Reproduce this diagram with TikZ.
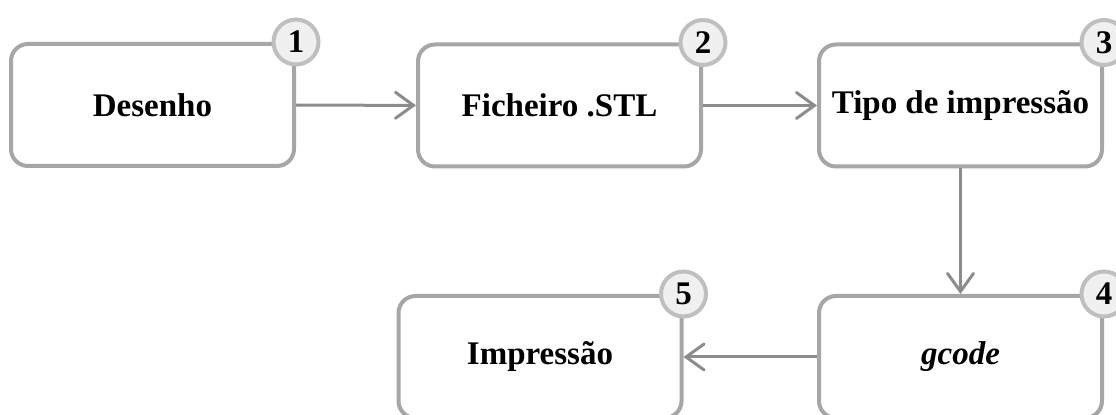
\documentclass[tikz,border=0pt]{standalone}
\usepackage{fontspec}
\setmainfont{Liberation Serif}
\usetikzlibrary{arrows.meta}
\definecolor{boxgray}{HTML}{A6A6A6}
\definecolor{ringgray}{HTML}{BFBFBF}
\definecolor{ringfill}{HTML}{F0F0F0}
\definecolor{arrowgray}{HTML}{8C8C8C}
\tikzset{
    stepbox/.style={draw=boxgray, line width=2pt, rounded corners=8.5pt, fill=white,
        minimum width=141.5pt, minimum height=61pt, inner sep=0pt,
        font=\fontsize{16.5}{20}\selectfont\bfseries},
    badge/.style={circle, draw=ringgray, fill=ringfill, line width=2pt,
        minimum size=22.5pt, inner sep=0pt, font=\fontsize{16.5}{20}\selectfont\bfseries},
    flow/.style={draw=arrowgray, line width=1.5pt,
        -{Straight Barb[length=9pt, width=13pt, line cap=round]}}
}
\begin{document}
\begin{tikzpicture}[x=0.5pt, y=-0.5pt]
    \useasboundingbox (0, 0) rectangle (1116, 415);
    \clip (0, 0) rectangle (1116, 415);
    % row 1
    \node[stepbox] (desenho) at (152.5, 105) {Desenho};
    \node[stepbox] (ficheiro) at (559.5, 105.5) {Ficheiro .STL};
    \node[stepbox] (tipo) at (960.5, 105.5) {Tipo de impressão};
    % row 2
    \node[stepbox] (gcode) at (960.5, 357) {\textit{gcode}};
    \node[stepbox] (impressao) at (540, 357) {Impressão};
    % numbers
    \node[badge] (n1) at (desenho.north east) {1};
    \node[badge] (n2) at (ficheiro.north east) {2};
    \node[badge] (n3) at (tipo.north east) {3};
    \node[badge] (n4) at (gcode.north east) {4};
    \node[badge] (n5) at (impressao.north east) {5};
    % arrows
    \draw[flow] (desenho) -- (ficheiro);
    \draw[flow] (ficheiro) -- (tipo);
    \draw[flow] (tipo) -- (gcode);
    \draw[flow] (gcode) -- (impressao);
\end{tikzpicture}
\end{document}
